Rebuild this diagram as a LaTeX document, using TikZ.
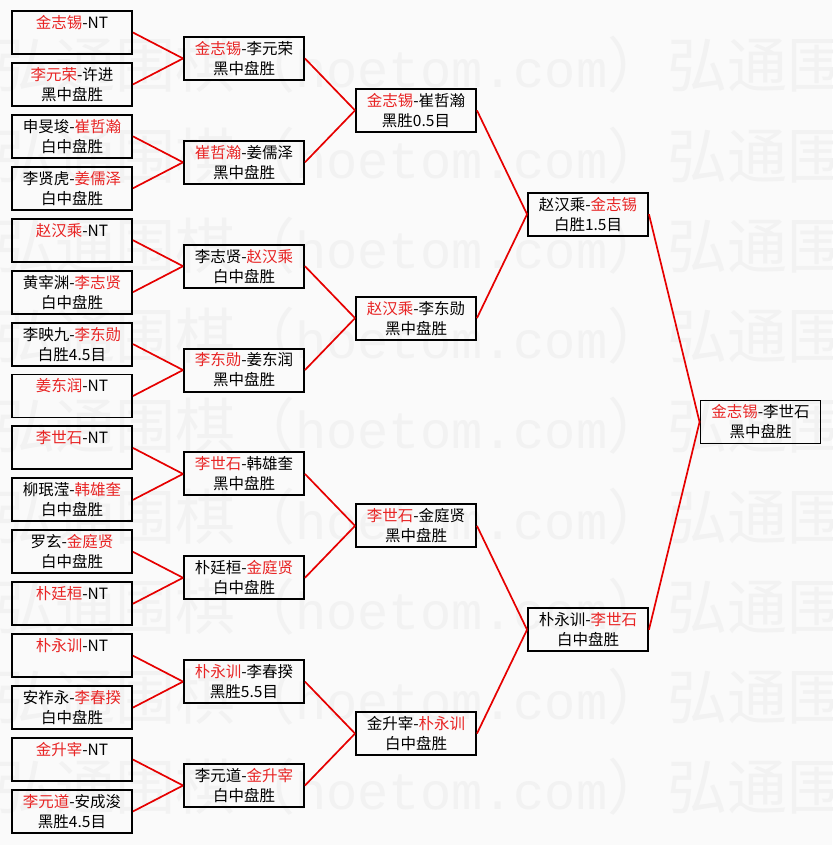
\documentclass[tikz,border=0pt]{standalone}
\usepackage{fontspec}
\newfontfamily\cjk{Noto Sans CJK SC}
\newfontfamily\wmmono{Liberation Mono}
\definecolor{bg}{RGB}{250,250,250}
\definecolor{wm}{RGB}{242,242,242}
\definecolor{win}{RGB}{232,36,36}
\definecolor{linkred}{RGB}{230,0,0}
\newcommand\R[1]{\textcolor{win}{#1}}
\newcommand\wmrow{\cjk\fontsize{60}{60}\selectfont 弘通围棋（{\wmmono\fontsize{52}{60}\selectfont hoetom.com}）弘通围棋}
\newcommand\blank{\phantom{中}}
\tikzset{
  box/.style={draw=black, line width=1.9pt, minimum width=120pt, minimum height=43pt,
    inner sep=0pt, align=center, font=\cjk\fontsize{15.5}{20}\selectfont, text=black},
  conn/.style={draw=linkred, line width=1.7pt},
  wmtext/.style={anchor=west, inner sep=0pt, text=wm}
}
\begin{document}
\begin{tikzpicture}[x=1pt,y=-1pt]
\useasboundingbox (0,0) rectangle (832,845);
\fill[bg] (0,0) rectangle (832,845);
% watermark
\foreach \i [count=\n] in {65,155.25,245.5,335.75,426,516.25,606.5,696.75,787}
  \node[wmtext] (wm\n) at (-5,\i) {\wmrow};
% round 1
\node[box] (a1)  at (72,32.5)   {\R{金志锡}-NT\\\blank};
\node[box] (a2)  at (72,84.43)  {\R{李元荣}-许进\\黑中盘胜};
\node[box] (a3)  at (72,136.36) {申旻埈-\R{崔哲瀚}\\白中盘胜};
\node[box] (a4)  at (72,188.29) {李贤虎-\R{姜儒泽}\\白中盘胜};
\node[box] (a5)  at (72,240.22) {\R{赵汉乘}-NT\\\blank};
\node[box] (a6)  at (72,292.15) {黄宰渊-\R{李志贤}\\白中盘胜};
\node[box] (a7)  at (72,344.08) {李映九-\R{李东勋}\\白胜4.5目};
\node[box] (a8)  at (72,396.01) {\R{姜东润}-NT\\\blank};
\node[box] (a9)  at (72,447.94) {\R{李世石}-NT\\\blank};
\node[box] (a10) at (72,499.87) {柳珉滢-\R{韩雄奎}\\白中盘胜};
\node[box] (a11) at (72,551.80) {罗玄-\R{金庭贤}\\白中盘胜};
\node[box] (a12) at (72,603.73) {\R{朴廷桓}-NT\\\blank};
\node[box] (a13) at (72,655.66) {\R{朴永训}-NT\\\blank};
\node[box] (a14) at (72,707.59) {安祚永-\R{李春揆}\\白中盘胜};
\node[box] (a15) at (72,759.52) {\R{金升宰}-NT\\\blank};
\node[box] (a16) at (72,811.45) {\R{李元道}-安成浚\\黑胜4.5目};
% round 2
\node[box] (b1) at (244,58.47)  {\R{金志锡}-李元荣\\黑中盘胜};
\node[box] (b2) at (244,162.33) {\R{崔哲瀚}-姜儒泽\\黑中盘胜};
\node[box] (b3) at (244,266.19) {李志贤-\R{赵汉乘}\\白中盘胜};
\node[box] (b4) at (244,370.05) {\R{李东勋}-姜东润\\黑中盘胜};
\node[box] (b5) at (244,473.91) {\R{李世石}-韩雄奎\\黑中盘胜};
\node[box] (b6) at (244,577.77) {朴廷桓-\R{金庭贤}\\白中盘胜};
\node[box] (b7) at (244,681.63) {\R{朴永训}-李春揆\\黑胜5.5目};
\node[box] (b8) at (244,785.49) {李元道-\R{金升宰}\\白中盘胜};
% round 3
\node[box] (c1) at (416,110.4)  {\R{金志锡}-崔哲瀚\\黑胜0.5目};
\node[box] (c2) at (416,318.12) {\R{赵汉乘}-李东勋\\黑中盘胜};
\node[box] (c3) at (416,525.84) {\R{李世石}-金庭贤\\黑中盘胜};
\node[box] (c4) at (416,733.56) {金升宰-\R{朴永训}\\白中盘胜};
% semi finals
\node[box] (d1) at (588,214.26) {赵汉乘-\R{金志锡}\\白胜1.5目};
\node[box] (d2) at (588,629.7)  {朴永训-\R{李世石}\\白中盘胜};
% final
\node[box] (e)  at (760.5,421.98) {\R{金志锡}-李世石\\黑中盘胜};
% connectors
\foreach \p/\c in {b1/a1,b1/a2,b2/a3,b2/a4,b3/a5,b3/a6,b4/a7,b4/a8,
                   b5/a9,b5/a10,b6/a11,b6/a12,b7/a13,b7/a14,b8/a15,b8/a16,
                   c1/b1,c1/b2,c2/b3,c2/b4,c3/b5,c3/b6,c4/b7,c4/b8,
                   d1/c1,d1/c2,d2/c3,d2/c4,e/d1,e/d2}
  \draw[conn] (\c.east) -- (\p.west);
\end{tikzpicture}
\end{document}
